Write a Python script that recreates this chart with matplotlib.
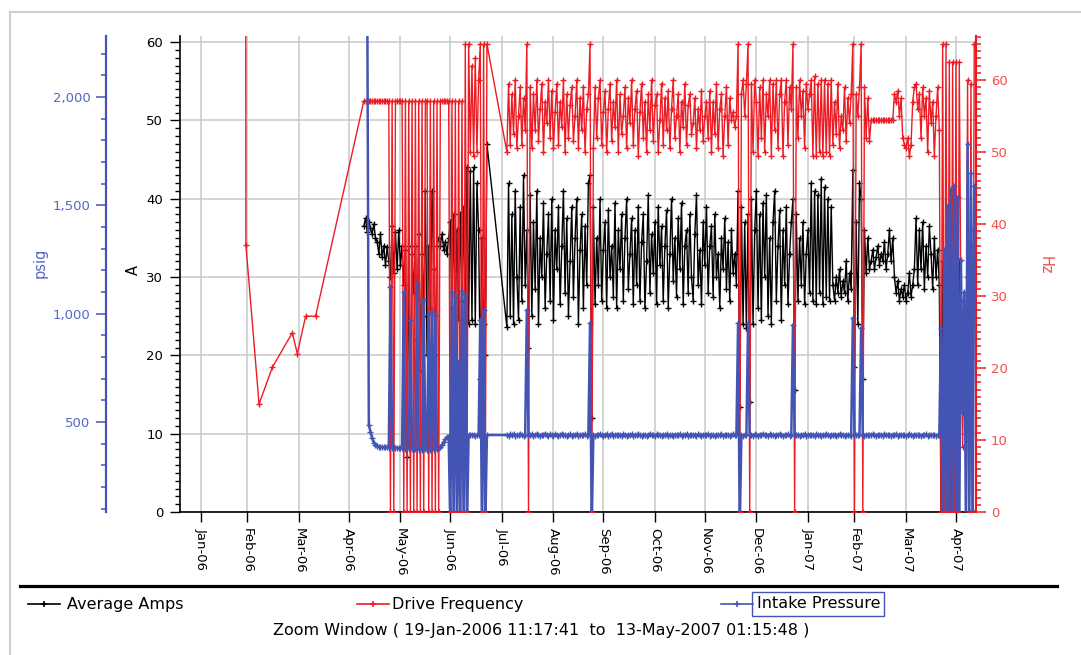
import numpy as np
import pandas as pd
import matplotlib
matplotlib.use("Agg")
import matplotlib.pyplot as plt
from matplotlib.ticker import MultipleLocator, FuncFormatter, FixedLocator
from matplotlib.lines import Line2D
from matplotlib.patches import Rectangle
from datetime import datetime

nan = np.nan

window_start = "2006-01-19 11:17:41"
window_end = "2007-05-13 01:15:48"

month_labels = ["Jan-06", "Feb-06", "Mar-06", "Apr-06", "May-06", "Jun-06", "Jul-06",
                "Aug-06", "Sep-06", "Oct-06", "Nov-06", "Dec-06", "Jan-07", "Feb-07",
                "Mar-07", "Apr-07"]

# ---- Drive Frequency (Hz): sparse early readings ----
freq_early_times = ["2006-02-28 00:00", "2006-02-28 02:00", "2006-03-08 00:00", "2006-03-16 00:00",
                    "2006-03-28 00:00", "2006-03-31 00:00", "2006-04-05 00:00", "2006-04-11 00:00"]
freq_early = [75.0, 37.1, 15.0, 20.1, 24.9, 22.0, 27.2, 27.2]

# ---- daily readings, segment 1 (from 10-May-2006) ----
seg1_start = "2006-05-10"
freq_seg1 = [57.1, 57.1, 57.1, 57.1, 57.1, 57.1, 57.1, 57.1, 57.1, 57.1, 57.1, 57.1, 57.1, 57.1, 57.1, 57.1,
             0, 57.1, 0, 57.1, 57.1, 57.1, 57.1, 57.1, 0, 57.1, 0, 57.1, 0, 57.1, 0, 57.1, 0, 57.1,
             0, 57.1, 0, 57.1, 57.1, 0, 57.1, 0, 57.1, 0, 57.1, 0,
             57.1, 57.1, 57.1, 57.1, 57.1, 57.1,
             0, 57.1, 0, 57.1, 0, 57.1, 0, 57.1, 0, 65, 0, 65, 50, 62, 49.5, 63, 50, 60, 65, 0, 65, 0, 65]
amps_seg1 = [36.5, 37.5, 35.8, 37, 36.2, 35.5, 36.8, 35,
             34.5, 33, 35.5, 32.5, 34, 31.5, 33.8, 32,
             30, 36.5, 30.5, 35.8, 31, 36, 31.5, 34,
             29, 33.5, 7, 34, 9, 33, 28, 34, 22, 35.5, 18, 33, 25, 41, 20, 34, 26, 41, 31, 20, 34,
             35, 34, 35.5, 33.5, 34.5, 33, 35,
             37, 26, 38, 25, 36, 24.5, 38, 27, 39, 24.5, 44,
             24, 43.5, 24.5, 44, 24, 42,
             36, 17, 35, 24, 20, 47]
psig_seg1 = [nan, nan, 2600,
             486, 455, 425, 405, 395, 388, 386, 385,
             384, 383, 385, 384, 382,
             1125, 381, 383, 380, 382, 379, 381, 378,
             1100, 377, 379, 376,
             972, 375, 377, 374,
             1143, 373, 375, 372,
             1065, 374, 371,
             1000, 373, 1010, 372, 993,
             374, 378, 385, 395, 408, 420, 430, 436,
             0, 1100, 0, 1080, 0, 780, 0, 1105, 0, 1090, 0,
             440, 438, 442, 440, 437, 441, 439,
             972, 0, 1018, 0, 440]

# ---- daily readings, segment 2 (from 04-Aug-2006) ----
seg2_start = "2006-08-04"
freq_seg2 = [50, 59.5, 51, 58, 52.5, 60, 50.5, 55, 59, 51, 57.5, 53,
             65, 0,
             59, 50.5, 58, 53, 60, 51.5, 56, 59.5, 50, 57,
             54, 60, 52, 58.5, 50.5, 55.5, 59.5, 51, 57, 53.5,
             60, 50, 58, 52, 56.5, 59, 51.5, 55, 60, 50.5,
             57.5, 53, 59, 50, 56, 58,
             65, 0,
             50.5, 59, 52, 57.5, 60, 51, 55.5, 58.5, 50, 56,
             59.5, 51.5, 57, 53.5, 60, 50, 58, 52.5, 55, 59,
             50.5, 57.5, 54, 60, 51, 56, 58.5, 49.5, 55.5, 59.5,
             52, 57, 50, 58, 53, 60, 51.5, 56.5, 58, 50,
             54.5, 59.5, 51, 57.5, 53, 58.5, 50.5, 56, 60, 52,
             55, 58, 50, 57, 53.5, 59.5, 51, 56.5, 58, 52.5,
             54, 57.5, 50.5, 56, 53, 58.5, 51.5, 55, 57, 52,
             58.5, 50, 57, 52.5, 59.5, 50.5, 56, 58, 49.5, 55,
             59, 51, 57.5, 54.5, 55.5, 53.5, 55,
             65, 0,
             58, 60, 55, 59.5,
             65, 0,
             59.5, 50, 60, 57, 49.5, 59, 52, 60, 50, 58, 55, 60, 49.5, 59.5, 53, 60, 50.5, 58, 60, 49.5,
             57, 60, 51, 59, 56,
             65, 0,
             59, 52, 60, 55, 58.5, 50.5, 59.5, 56, 58,
             60, 49.5, 60.5, 49.5, 59.5, 50, 60, 49.5, 60, 50, 59.5, 49.5, 60,
             51, 57, 52.5, 59.5, 50.5, 55, 53, 59, 51.5, 57.5, 54, 58,
             65, 0,
             58, 55, 59,
             65, 0,
             59, 52, 57.5, 51.5,
             54.4, 54.4, 54.4, 54.4, 54.4, 54.4, 54.4, 54.4, 54.4, 54.4, 54.4, 54.4, 54.4, 54.4,
             58, 57, 58.5, 55, 57.5, 52, 51, 50.5, 52, 49.5, 51, 57, 59,
             59.5, 56, 58, 52, 59, 55, 57.5, 50, 58.5, 54, 57, 49.5, 55, 59, 53,
             0, 65, 0, 65, 0, 62.5, 0, 62.5, 0, 62.5, 0, 62.5,
             28, 9, 25, 12,
             60, 0, 59.5, 0, 65]
amps_seg2 = [23.6, 42, 25, 38, 24, 41, 30, 24.5, 39, 27, 43, 29,
             36, 21,
             40.5, 25, 37, 28.5, 41, 24, 35, 30, 39.5, 26,
             33, 38, 27, 40, 24.5, 36, 31, 39, 26.5, 34,
             41, 28, 37.5, 25, 32, 39, 27.5, 35, 40, 24,
             33.5, 38, 26, 36.5, 29, 42,
             43, 12,
             39, 26.5, 35, 29, 40, 27, 33.5, 37, 26, 38.5,
             30, 34, 27.5, 39.5, 26, 36, 31, 38, 27, 35,
             40, 28.5, 33, 37.5, 26.5, 36, 29, 39, 27, 34.5,
             38, 26, 32, 40.5, 28, 35.5, 30.5, 37, 26.5, 39,
             31.5, 36.5, 27, 34, 38.5, 26, 33, 40, 29.5, 35,
             27.5, 37.5, 31, 39.5, 26.5, 34, 36, 28, 38, 30,
             27, 35.5, 40.5, 29, 33.5, 26.5, 37, 31.5, 39, 28,
             34, 36.5, 27.5, 38, 30, 33, 26, 35, 31, 37.5,
             28.5, 34.5, 27, 36, 30.5, 33, 29,
             41, 13.4,
             39, 24, 37, 23.5,
             38, 14,
             40, 24, 36, 41, 26, 38, 24.5, 39.5, 30, 40.5,
             25, 35, 24, 37, 41, 27, 34, 38.5, 24.5, 36,
             29, 39, 26.5, 33, 37,
             40, 15.6,
             38, 27, 35, 29, 37, 26.5, 33, 36, 28,
             42, 27, 41, 26.5, 40.5, 28, 42.5, 26.5, 41.5, 27.5, 40, 27, 39,
             29, 27, 30, 28, 31, 27.5, 29.5, 28, 32, 27, 30.5, 28.5,
             43.7, 18.5,
             37, 24, 42,
             40, 17,
             36, 30.5, 35, 31,
             32, 33.5, 31, 32.5, 34, 31.5, 33, 32, 34.5, 31, 33, 36, 32, 35,
             30, 28, 29.5, 27, 28.5, 27.5, 29, 27, 28, 30.5, 27.5, 29, 31,
             37.5, 29, 36, 31, 37, 28.5, 34, 30, 36.5, 33, 28.5, 35, 30, 33.5, 29,
             0, 32, 0, 30, 0, 33, 0, 31, 0, 29, 0, 32,
             27, 14, 24, 10,
             30, 0, 34, 0, 36]
psig_seg2 = [440, 437, 443, 439, 445, 436, 441, 438, 444, 440, 436, 442,
             1018, 440,
             438, 443, 436, 441, 445, 439, 434, 442, 438, 446, 440, 435, 443, 439, 437, 444, 441, 436,
             440, 445, 438, 442, 435, 440, 443, 437, 441, 439, 445, 436, 442, 438, 440, 444, 437, 441,
             958, 0,
             440, 436, 442, 438, 444, 439, 435, 441, 443, 437,
             440, 445, 436, 439, 442, 438, 441, 435, 443, 440,
             437, 442, 439, 444, 436, 440, 438, 443, 441, 435,
             439, 442, 437, 440, 445, 438, 441, 436, 443, 439,
             440, 437, 442, 438, 444, 436, 441, 439, 435, 442,
             440, 438, 443, 437, 441, 439, 445, 436, 440, 442,
             438, 441, 437, 443, 439, 436, 442, 440, 438, 444,
             437, 441, 439, 435, 442, 440, 438, 443, 436, 441,
             439, 442, 437, 440, 444, 438, 441,
             958, 0,
             440, 437, 442, 439,
             958, 440,
             441, 437, 443, 439, 436, 442, 440, 445, 438, 441, 436, 443, 439, 440, 437, 442, 438, 444,
             440, 436, 441, 439, 443, 437, 440,
             949, 440,
             438, 442, 436, 441, 439, 444, 437, 440, 442,
             438, 441, 436, 443, 439, 440, 437, 442, 438, 444, 440, 436, 441,
             439, 442, 437, 440, 443, 438, 441, 436, 442, 439, 440, 437,
             981, 440,
             442, 438, 441,
             935, 440,
             437, 442, 439, 441,
             438, 443, 440, 436, 442, 439, 441, 437, 444, 440, 438, 442, 436, 441,
             439, 443, 437, 440, 442, 438, 441, 436, 440, 443, 439, 437, 441,
             440, 438, 442, 437, 441, 439, 443, 436, 440, 442, 438, 441, 437, 440, 442,
             935, 0, 1296, 0, 1500, 0, 1574, 60, 1588, 0, 1540, 0,
             1250, 540, 1100, 0,
             1785, 0, 1650, 0, 1588]

for name, a, b in [("seg1", freq_seg1, (amps_seg1, psig_seg1)), ("seg2", freq_seg2, (amps_seg2, psig_seg2))]:
    if not (len(a) == len(b[0]) == len(b[1])):
        raise ValueError(f"{name} lengths: {len(a)} {len(b[0])} {len(b[1])}")

t1 = pd.date_range(seg1_start, periods=len(freq_seg1), freq="D")
t2 = pd.date_range(seg2_start, periods=len(freq_seg2), freq="D")
t_early = pd.to_datetime(freq_early_times, format="%Y-%m-%d %H:%M")

freq_t = t_early.append(t1).append(t2)
freq_v = np.array(freq_early + freq_seg1 + freq_seg2, dtype=float)
amps_t = t1.append(t2)
amps_v = np.array(amps_seg1 + amps_seg2, dtype=float)
psig_t = t1.append(t2)
psig_v = np.array(psig_seg1 + psig_seg2, dtype=float)

# ---- styling ----
RED = "#EC1C24"
RED_TXT = "#F0504C"
BLUE = "#4454B4"
BLUE_TXT = "#5566C4"
GRID = "#C9C9C9"
FS = 9.5

plt.rcParams["font.family"] = ["DejaVu Sans"]

W, H = 1081, 655
fig = plt.figure(figsize=(W / 100, H / 100), dpi=100)
L, R, T, B = 180, 976, 36, 512
ax = fig.add_axes([L / W, 1 - B / H, (R - L) / W, (B - T) / H])
ax_hz = ax.twinx()
ax_ps = ax.twinx()

ax.plot(amps_t, amps_v, color="black", lw=1.0, marker="+", ms=4, mew=1.0, zorder=3)
ax_hz.plot(freq_t, freq_v, color=RED, lw=1.0, marker="+", ms=4, mew=1.0)
ax_ps.plot(psig_t, psig_v, color=BLUE, lw=1.8, marker="+", ms=4, mew=1.0)

x0, x1 = pd.Timestamp(window_start), pd.Timestamp(window_end)
ax.set_xlim(x0, x1)

tick_pos = [pd.Timestamp(datetime.strptime(m, "%b-%y")) + pd.offsets.MonthBegin(1) for m in month_labels]
ax.xaxis.set_major_locator(FixedLocator(matplotlib.dates.date2num(tick_pos)))
ax.set_xticklabels(month_labels, rotation=270, ha="center", va="top", fontsize=FS)

ax.set_ylim(0, 476 / 7.833)
ax.yaxis.set_major_locator(MultipleLocator(10))
ax.yaxis.set_minor_locator(MultipleLocator(1))
ax.tick_params(axis="y", which="major", length=7.2, width=1, pad=5, labelsize=FS, colors="black")
ax.tick_params(axis="y", which="minor", length=3.6, width=1)
ax.tick_params(axis="x", which="major", length=7.2, width=1, pad=4, labelsize=FS)
ax.grid(True, which="major", color=GRID, lw=1.1, zorder=0)
ax.set_axisbelow(True)
for s in ["top", "right"]:
    ax.spines[s].set_visible(False)
ax.spines["left"].set_linewidth(1.2)
ax.spines["bottom"].set_linewidth(1.2)

ax_hz.set_ylim(0, 476 / 7.2)
ax_hz.yaxis.set_major_locator(MultipleLocator(10))
ax_hz.yaxis.set_minor_locator(MultipleLocator(1))
ax_hz.tick_params(axis="y", which="major", length=7.2, width=1.1, pad=3.5, labelsize=FS,
                  colors=RED, labelcolor=RED_TXT)
ax_hz.tick_params(axis="y", which="minor", length=3.6, width=1.1, colors=RED)
for s in ["top", "left", "bottom"]:
    ax_hz.spines[s].set_visible(False)
ax_hz.spines["right"].set_color(RED)
ax_hz.spines["right"].set_linewidth(1.6)

ps_per_px = 1500 / 325.0
ax_ps.set_ylim(500 - 90 * ps_per_px, 500 + 386 * ps_per_px)
ax_ps.yaxis.set_ticks_position("left")
ax_ps.yaxis.set_label_position("left")
ax_ps.spines["left"].set_position(("outward", 74 * 0.72))
ax_ps.spines["left"].set_visible(True)
ax_ps.spines["left"].set_color(BLUE)
ax_ps.spines["left"].set_linewidth(1.6)
for s in ["top", "right", "bottom"]:
    ax_ps.spines[s].set_visible(False)
ax_ps.yaxis.set_major_locator(MultipleLocator(500))
ax_ps.yaxis.set_minor_locator(MultipleLocator(100))
ax_ps.yaxis.set_major_formatter(FuncFormatter(lambda v, p: f"{v:,.0f}"))
ax_ps.tick_params(axis="y", which="major", length=7.2, width=1.1, pad=4, labelsize=FS,
                  colors=BLUE, labelcolor=BLUE_TXT)
ax_ps.tick_params(axis="y", which="minor", length=3.6, width=1.1, colors=BLUE)

fig.text(40 / W, 1 - 263 / H, "psig", rotation=90, ha="center", va="center", color=BLUE_TXT, fontsize=10.5)
fig.text(133 / W, 1 - 270 / H, "A", rotation=90, ha="center", va="center", color="black", fontsize=10.5)
fig.text(1045 / W, 1 - 265 / H, "Hz", rotation=270, ha="center", va="center", color=RED_TXT, fontsize=10.5)

deco = fig.add_axes([0, 0, 1, 1], zorder=5)
deco.set_xlim(0, W)
deco.set_ylim(H, 0)
deco.axis("off")
deco.patch.set_alpha(0)
deco.plot([10, 10], [12, H], color="#CFCFCF", lw=1.5)
deco.plot([10, W], [12, 12], color="#CFCFCF", lw=1.5)
deco.plot([20, 1057], [586, 586], color="black", lw=2.3)

leg = [("Average Amps", "black", 28, 67), ("Drive Frequency", RED, 357, 392), ("Intake Pressure", BLUE, 721, 757)]
for lab, col, lx, tx in leg:
    deco.add_line(Line2D([lx, lx + 32], [604, 604], color=col, lw=1.2))
    deco.plot([lx + 16], [604], marker="+", color=col, ms=5, mew=1.2)
    deco.text(tx, 604, lab, ha="left", va="center", fontsize=11.5, color="black")
deco.add_patch(Rectangle((752, 592), 132, 24, fill=False, edgecolor=BLUE, lw=1))
deco.text(541, 631, "Zoom Window ( 19-Jan-2006 11:17:41  to  13-May-2007 01:15:48 )",
          ha="center", va="center", fontsize=11.5, color="black")

fig.savefig("out.png", dpi=100)
